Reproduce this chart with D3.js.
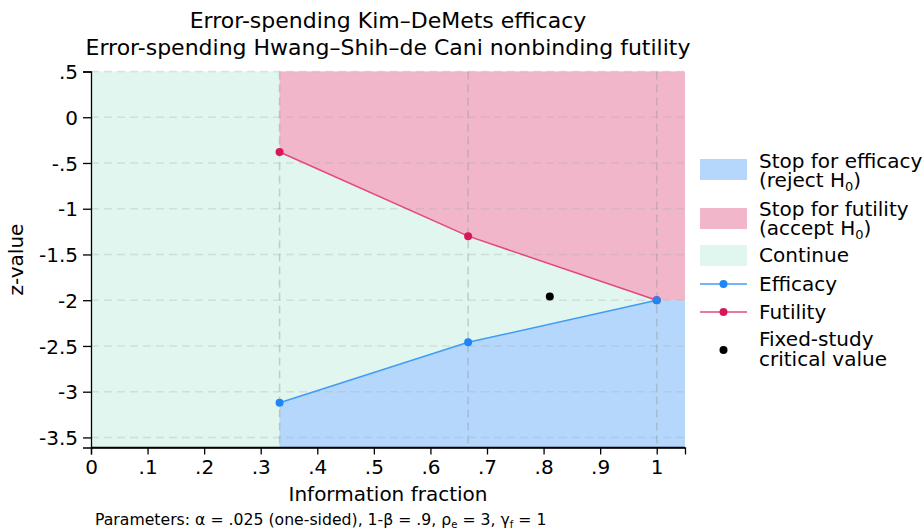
<!DOCTYPE html>
<html><head><meta charset="utf-8">
<script src="https://cdn.jsdelivr.net/npm/d3@7"></script>
<style>body{margin:0;background:#fff}svg{font-family:"DejaVu Sans",sans-serif}</style>
</head><body>
<svg id="c" width="923" height="529"></svg>
<script>
const infoFrac = [1/3, 2/3, 1];
const efficacy = [-3.12, -2.46, -2.00];
const futility = [-0.38, -1.30, -2.00];
const fixedStudy = {x: 0.811, z: -1.96};
const xTicks = [0, .1, .2, .3, .4, .5, .6, .7, .8, .9, 1];
const yTicks = [.5, 0, -.5, -1, -1.5, -2, -2.5, -3, -3.5];
const xMax = 1.05, yMin = -3.61, yMax = 0.5;

const svg = d3.select("#c");
const L = 91, R = 685, T = 71.5, B = 447.5;
const x = d3.scaleLinear().domain([0, xMax]).range([L, R]);
const y = d3.scaleLinear().domain([yMin, yMax]).range([B, T]);
const fmt = v => v === 0 ? "0" : String(v).replace(/^(-?)0\./, "$1.");

const cBlue = "#b5d7fc", cPink = "#f2b6cb", cGreen = "#e0f6ee";
svg.append("rect").attr("x", L).attr("y", T).attr("width", R - L).attr("height", B - T).attr("fill", cGreen);
const effPts = infoFrac.map((f, i) => [f, efficacy[i]]).concat([[xMax, efficacy[2]]]);
const futPts = infoFrac.map((f, i) => [f, futility[i]]).concat([[xMax, futility[2]]]);
const areaBelow = d3.area().x(d => x(d[0])).y0(y(yMin)).y1(d => y(d[1]));
const areaAbove = d3.area().x(d => x(d[0])).y0(y(yMax)).y1(d => y(d[1]));
svg.append("path").datum(effPts).attr("d", areaBelow).attr("fill", cBlue);
svg.append("path").datum(futPts).attr("d", areaAbove).attr("fill", cPink);

// grid
svg.append("g").selectAll("line").data(yTicks).join("line")
  .attr("x1", L).attr("x2", R).attr("y1", d => y(d)).attr("y2", d => y(d))
  .attr("stroke", "rgba(160,170,170,0.28)").attr("stroke-width", 1.5).attr("stroke-dasharray", "8,5");
svg.append("g").selectAll("line").data(infoFrac).join("line")
  .attr("x1", d => x(d)).attr("x2", d => x(d)).attr("y1", T).attr("y2", B)
  .attr("stroke", "rgba(140,150,150,0.4)").attr("stroke-width", 1.5).attr("stroke-dasharray", "8,5");

// lines
const line = d3.line().x(d => x(d[0])).y(d => y(d[1]));
const futOnly = infoFrac.map((f, i) => [f, futility[i]]);
const effOnly = infoFrac.map((f, i) => [f, efficacy[i]]);
svg.append("path").datum(futOnly).attr("d", line).attr("fill", "none").attr("stroke", "#e2487d").attr("stroke-width", 1.5);
svg.append("path").datum(effOnly).attr("d", line).attr("fill", "none").attr("stroke", "#3f9cf6").attr("stroke-width", 1.5);
svg.append("g").selectAll("circle").data(futOnly).join("circle")
  .attr("cx", d => x(d[0])).attr("cy", d => y(d[1])).attr("r", 4).attr("fill", "#d8175a");
svg.append("g").selectAll("circle").data(effOnly).join("circle")
  .attr("cx", d => x(d[0])).attr("cy", d => y(d[1])).attr("r", 4).attr("fill", "#1e86f7");
svg.append("circle").attr("cx", x(fixedStudy.x)).attr("cy", y(fixedStudy.z)).attr("r", 4).attr("fill", "#000");

// axes
const xAxis = svg.append("g").attr("transform", `translate(0,${B})`)
  .call(d3.axisBottom(x).tickValues(xTicks).tickFormat(fmt).tickSizeOuter(0).tickSize(7));
const yAxis = svg.append("g").attr("transform", `translate(${L},0)`)
  .call(d3.axisLeft(y).tickValues(yTicks).tickFormat(fmt).tickSizeOuter(0).tickSize(8));
[xAxis, yAxis].forEach(a => {
  a.select(".domain").attr("stroke", "#000").attr("stroke-width", 1.3);
  a.selectAll(".tick line").attr("stroke", "#000").attr("stroke-width", 1.3);
  a.selectAll(".tick text").attr("font-size", 20).attr("fill", "#000").attr("font-family", "DejaVu Sans");
});
xAxis.selectAll(".tick text").attr("y", 11).attr("dy", "0.75em");
yAxis.selectAll(".tick text").attr("x", -13).attr("dy", "0.36em");
svg.append("line").attr("x1", L).attr("x2", R).attr("y1", B).attr("y2", B).attr("stroke", "#000").attr("stroke-width", 1.3);

// titles
const cx = (L + R) / 2;
svg.append("text").attr("x", cx).attr("y", 28).attr("text-anchor", "middle").attr("font-size", 22).text("Error-spending Kim–DeMets efficacy");
svg.append("text").attr("x", cx).attr("y", 55).attr("text-anchor", "middle").attr("font-size", 22).text("Error-spending Hwang–Shih–de Cani nonbinding futility");
svg.append("text").attr("x", cx).attr("y", 501).attr("text-anchor", "middle").attr("font-size", 20).text("Information fraction");
svg.append("text").attr("transform", `translate(23,${(T + B) / 2}) rotate(-90)`).attr("text-anchor", "middle").attr("font-size", 20).text("z-value");
const note = svg.append("text").attr("x", 95).attr("y", 525).attr("font-size", 15.7);
note.append("tspan").text("Parameters: α = .025 (one-sided), 1-β = .9, ρ");
note.append("tspan").attr("font-size", 10).attr("dy", 3).text("e");
note.append("tspan").attr("dy", -3).text(" = 3, γ");
note.append("tspan").attr("font-size", 10).attr("dy", 3).text("f");
note.append("tspan").attr("dy", -3).text(" = 1");

// legend
const lg = svg.append("g").attr("font-size", 20);
const sw = [[cBlue, 159], [cPink, 208], [cGreen, 245]];
sw.forEach(s => lg.append("rect").attr("x", 700).attr("y", s[1]).attr("width", 47).attr("height", 21).attr("fill", s[0]));
function sub(base, main, s, close) {
  const el = lg.append("text").attr("x", 759).attr("y", base);
  el.append("tspan").text(main);
  el.append("tspan").attr("font-size", 13).attr("dy", 4).text(s);
  el.append("tspan").attr("dy", -4).text(close);
}
lg.append("text").attr("x", 759).attr("y", 168).text("Stop for efficacy");
sub(187, "(reject H", "0", ")");
lg.append("text").attr("x", 759).attr("y", 216).text("Stop for futility");
sub(235, "(accept H", "0", ")");
lg.append("text").attr("x", 759).attr("y", 262).text("Continue");
lg.append("line").attr("x1", 700).attr("x2", 747).attr("y1", 284).attr("y2", 284).attr("stroke", "#3f9cf6").attr("stroke-width", 1.5);
lg.append("circle").attr("cx", 723.5).attr("cy", 284).attr("r", 4).attr("fill", "#1e86f7");
lg.append("text").attr("x", 759).attr("y", 291).text("Efficacy");
lg.append("line").attr("x1", 700).attr("x2", 747).attr("y1", 312).attr("y2", 312).attr("stroke", "#e2487d").attr("stroke-width", 1.5);
lg.append("circle").attr("cx", 723.5).attr("cy", 312).attr("r", 4).attr("fill", "#d8175a");
lg.append("text").attr("x", 759).attr("y", 319).text("Futility");
lg.append("circle").attr("cx", 723.5).attr("cy", 350).attr("r", 4).attr("fill", "#000");
lg.append("text").attr("x", 759).attr("y", 346).text("Fixed-study");
lg.append("text").attr("x", 759).attr("y", 366).text("critical value");
</script>
</body></html>
